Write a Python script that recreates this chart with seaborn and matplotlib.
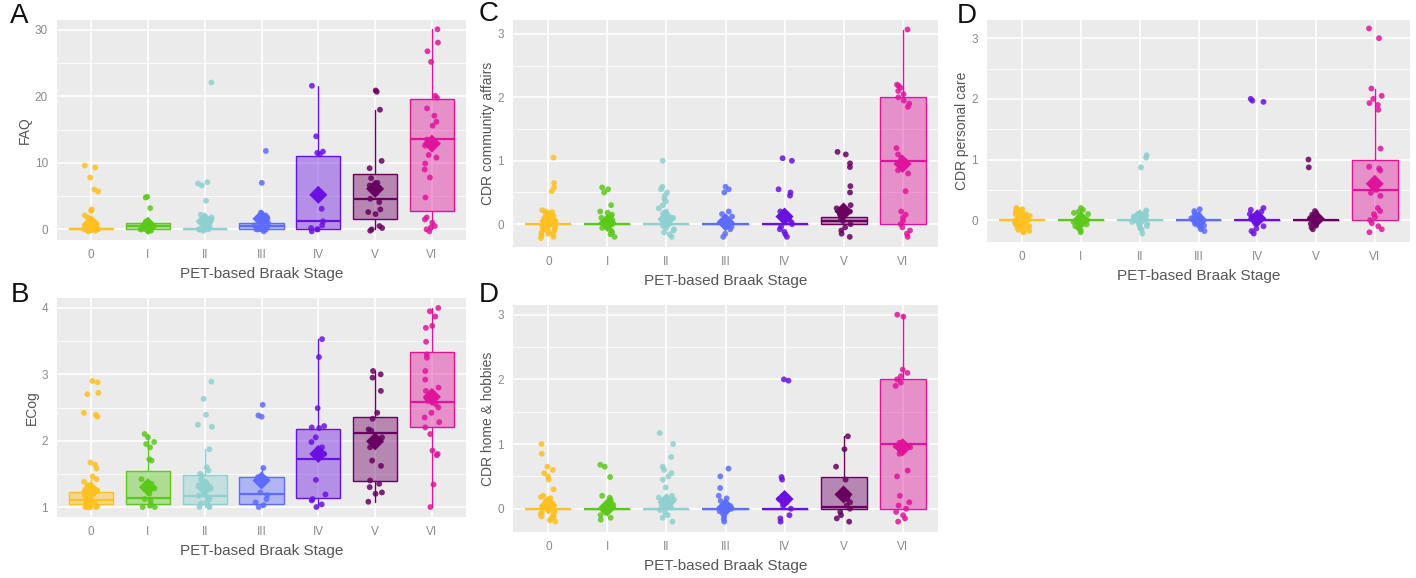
import numpy as np
import pandas as pd
import matplotlib
matplotlib.use("Agg")
import matplotlib.pyplot as plt
import seaborn as sns

np.random.seed(7)

stages = ["0", "I", "II", "III", "IV", "V", "VI"]
stage_colors = ["#FFC020", "#5CC81A", "#8ECFCF", "#5C6CFF", "#6A10E0", "#680060", "#E0149C"]

# ---- A: FAQ ----
faq_points = {
    "0": [9.6, 9.3, 7.8, 6.0, 5.7, 3.0, 2.8, 2.1, 1.8, 1.5, 1.2, 1.0, 0.8, 0.5, 0.3, 0.2, 0.1,
          0, 0, 0, 0, 0, 0, 0, 0, 0, 0, 0, 0, 0, 0, 0, 0, 0, 0, 0, -0.2, -0.3, 0.2, -0.1],
    "I": [4.9, 4.8, 3.2, 1.2, 1.0, 0.8, 0.6, 0.5, 0.3, 0.2, 0, 0, 0, 0, 0, 0, 0, -0.2, -0.3, 0.1],
    "II": [22.1, 7.1, 6.9, 6.6, 4.3, 2.2, 1.8, 1.5, 1.0, 0.6, 0.3, 0, 0, 0, 0, 0, 0, 0, 0, 0, 0,
           -0.2, 0.1, 0.2],
    "III": [11.8, 7.0, 2.5, 2.1, 1.8, 1.5, 1.2, 1.0, 0.6, 0.3, 0, 0, 0, 0, 0, -0.3],
    "IV": [21.6, 14.0, 11.7, 11.5, 11.3, 3.1, 1.2, 0.6, 0.2, 0, 0, -0.3],
    "V": [20.9, 20.7, 18.0, 10.3, 9.2, 7.7, 7.0, 6.6, 6.1, 5.5, 4.6, 4.1, 3.0, 2.6, 2.3, 0.5,
          0.2, 0.0, -0.2],
    "VI": [30.1, 28.1, 26.8, 25.2, 20.1, 19.8, 18.2, 17.1, 16.2, 15.6, 13.5, 12.6, 11.2, 10.8,
           9.9, 9.0, 7.8, 4.8, 1.8, 1.5, 1.0, 0.5, 0.3, 0.0, -0.3],
}
faq_box = {
    "whislo": [0, 0, 0, 0, 0, 0, 0],
    "q1": [0, 0, 0, 0, 0, 1.5, 2.8],
    "med": [0, 0.5, 0, 0.5, 1.2, 4.6, 13.6],
    "q3": [0.2, 1.0, 0.1, 1.0, 11.1, 8.3, 19.6],
    "whishi": [0.5, 1.2, 0.2, 2.5, 21.6, 18.0, 30.1],
    "mean": [0.8, 0.55, 1.2, 1.6, 5.2, 6.1, 12.9],
}

# ---- B: ECog ----
ecog_points = {
    "0": [2.9, 2.88, 2.72, 2.7, 2.42, 2.39, 2.36, 1.67, 1.64, 1.58, 1.46, 1.42, 1.38, 1.33, 1.3,
          1.27, 1.25, 1.22, 1.2, 1.18, 1.16, 1.15, 1.12, 1.1, 1.1, 1.08, 1.07, 1.06, 1.05, 1.04,
          1.03, 1.02, 1.01, 1.0, 1.0, 1.0, 1.0, 1.0],
    "I": [2.1, 2.05, 1.98, 1.95, 1.9, 1.72, 1.7, 1.42, 1.35, 1.28, 1.2, 1.12, 1.1, 1.05, 1.02,
          1.0, 1.0],
    "II": [2.89, 2.63, 2.39, 2.24, 2.21, 1.87, 1.6, 1.55, 1.5, 1.47, 1.42, 1.37, 1.33, 1.28,
           1.25, 1.2, 1.17, 1.15, 1.12, 1.08, 1.05, 1.02, 1.0, 1.0],
    "III": [2.54, 2.38, 2.36, 1.59, 1.45, 1.42, 1.22, 1.18, 1.12, 1.07, 1.03, 1.0],
    "IV": [3.53, 3.26, 2.49, 2.22, 2.2, 2.19, 2.05, 1.98, 1.9, 1.85, 1.8, 1.75, 1.41, 1.19,
           1.12, 1.1, 1.04, 1.0],
    "V": [3.05, 3.0, 2.95, 2.75, 2.42, 2.33, 2.17, 2.15, 2.05, 1.95, 1.9, 1.7, 1.62, 1.4, 1.35,
          1.3, 1.22, 1.2, 1.08],
    "VI": [4.0, 3.95, 3.87, 3.73, 3.7, 3.49, 3.3, 3.25, 3.05, 2.92, 2.8, 2.75, 2.7, 2.65, 2.6,
           2.55, 2.5, 2.42, 2.35, 2.28, 2.2, 2.1, 1.85, 1.8, 1.78, 1.34, 1.0],
}
ecog_box = {
    "whislo": [1.0, 1.0, 1.0, 1.0, 1.0, 1.08, 1.0],
    "q1": [1.04, 1.04, 1.05, 1.04, 1.13, 1.39, 2.21],
    "med": [1.1, 1.13, 1.17, 1.2, 1.73, 2.11, 2.58],
    "q3": [1.23, 1.54, 1.48, 1.46, 2.17, 2.35, 3.33],
    "whishi": [1.42, 2.1, 1.87, 1.59, 3.53, 3.05, 4.0],
    "mean": [1.25, 1.3, 1.3, 1.4, 1.8, 1.99, 2.66],
}

# ---- C: CDR community affairs ----
comm_points = {
    "0": [1.05, 0.65, 0.58, 0.52, 0.22, 0.2, 0.18, 0.15, 0.13, 0.1, 0.08, 0.06, 0.04, 0.02, 0.0,
          -0.02, -0.04, -0.06, -0.08, -0.1, -0.12, -0.14, -0.16, -0.18, -0.2, -0.22, 0.12,
          -0.05, 0.16, 0.05, -0.15, 0.0, 0.19, -0.1, 0.07, -0.02],
    "I": [0.58, 0.55, 0.5, 0.3, 0.2, 0.18, 0.15, 0.12, 0.1, 0.06, 0.03, 0.0, -0.03, -0.06, -0.1,
          -0.13, -0.16, -0.2],
    "II": [1.0, 0.59, 0.55, 0.5, 0.45, 0.4, 0.36, 0.3, 0.25, 0.2, 0.17, 0.14, 0.1, 0.07, 0.04,
           0.0, -0.03, -0.06, -0.1, -0.13, -0.16, -0.2, 0.12, -0.08, 0.02],
    "III": [0.59, 0.55, 0.5, 0.2, 0.16, 0.12, 0.08, 0.04, 0.0, -0.04, -0.08, -0.15, -0.2],
    "IV": [1.04, 1.0, 0.55, 0.5, 0.45, 0.2, 0.16, 0.12, 0.08, 0.03, 0.0, -0.04, -0.08, -0.12,
           -0.16, -0.2],
    "V": [1.14, 1.1, 0.96, 0.9, 0.6, 0.5, 0.3, 0.25, 0.2, 0.15, 0.1, 0.05, 0.0, -0.05, -0.1,
          -0.15, -0.2],
    "VI": [3.07, 2.2, 2.18, 2.15, 2.1, 2.05, 2.0, 1.95, 1.9, 1.85, 1.2, 1.1, 1.05, 1.0, 0.98,
           0.95, 0.9, 0.85, 0.8, 0.52, 0.2, 0.15, 0.1, 0.05, 0.0, -0.05, -0.1, -0.15, -0.2],
}
comm_box = {
    "whislo": [0, 0, 0, 0, 0, 0, 0],
    "q1": [0, 0, 0, 0, 0, 0, 0],
    "med": [0, 0, 0, 0, 0, 0.05, 1.0],
    "q3": [0, 0, 0, 0, 0, 0.12, 2.0],
    "whishi": [0, 0, 0, 0, 0, 0.3, 3.07],
    "mean": [0.05, 0.02, 0.08, 0.03, 0.12, 0.2, 0.95],
}

# ---- D (top): CDR personal care ----
care_points = {
    "0": [0.2, 0.18, 0.16, 0.14, 0.12, 0.1, 0.08, 0.06, 0.04, 0.02, 0.0, -0.02, -0.04, -0.06,
          -0.08, -0.1, -0.12, -0.14, -0.16, -0.18, -0.2, 0.15, 0.05, -0.05, -0.15, 0.1, -0.1,
          0.0, 0.19, -0.19, 0.07, -0.07],
    "I": [0.2, 0.17, 0.14, 0.1, 0.07, 0.03, 0.0, -0.03, -0.07, -0.1, -0.14, -0.17, -0.2, 0.12,
          -0.12, 0.05],
    "II": [1.07, 1.03, 0.87, 0.16, 0.13, 0.1, 0.06, 0.03, 0.0, -0.03, -0.06, -0.1, -0.13, -0.16,
           -0.22, 0.08, -0.08],
    "III": [0.18, 0.15, 0.12, 0.09, 0.06, 0.03, 0.0, -0.03, -0.06, -0.09, -0.12, -0.15, -0.18],
    "IV": [2.0, 1.97, 1.95, 0.2, 0.17, 0.14, 0.1, 0.06, 0.02, -0.02, -0.06, -0.1, -0.14, -0.18,
           -0.22],
    "V": [1.0, 0.87, 0.15, 0.12, 0.09, 0.06, 0.03, 0.0, -0.03, -0.06, -0.09, -0.12, -0.15],
    "VI": [3.16, 3.0, 2.17, 2.05, 2.0, 1.93, 1.9, 1.82, 1.18, 0.88, 0.85, 0.82, 0.6, 0.55, 0.5,
           0.45, 0.4, 0.2, 0.15, 0.1, 0.05, 0.0, -0.05, -0.1, -0.15, -0.2],
}
care_box = {
    "whislo": [0, 0, 0, 0, 0, 0, 0],
    "q1": [0, 0, 0, 0, 0, 0, 0],
    "med": [0, 0, 0, 0, 0, 0, 0.5],
    "q3": [0, 0, 0, 0, 0, 0, 1.0],
    "whishi": [0, 0, 0, 0, 0, 0, 2.17],
    "mean": [0.0, 0.0, 0.03, 0.0, 0.03, 0.02, 0.6],
}

# ---- D (bottom): CDR home & hobbies ----
home_points = {
    "0": [1.0, 0.85, 0.65, 0.6, 0.55, 0.5, 0.45, 0.3, 0.2, 0.18, 0.15, 0.12, 0.1, 0.08, 0.05,
          0.03, 0.0, -0.03, -0.05, -0.08, -0.1, -0.12, -0.15, -0.18, -0.2, 0.16, -0.06, 0.06,
          0.02, -0.14],
    "I": [0.68, 0.65, 0.49, 0.2, 0.17, 0.14, 0.1, 0.06, 0.03, 0.0, -0.03, -0.06, -0.1, -0.14,
          -0.17],
    "II": [1.17, 1.0, 0.8, 0.65, 0.6, 0.55, 0.5, 0.45, 0.33, 0.2, 0.17, 0.14, 0.1, 0.06, 0.02,
           -0.02, -0.06, -0.1, -0.14, -0.2],
    "III": [0.62, 0.5, 0.32, 0.2, 0.16, 0.12, 0.08, 0.04, 0.0, -0.04, -0.08, -0.12, -0.16, -0.2],
    "IV": [2.0, 1.98, 0.49, 0.45, 0.2, 0.15, 0.1, 0.05, 0.0, -0.1, -0.15, -0.2],
    "V": [1.12, 0.92, 0.65, 0.45, 0.25, 0.2, 0.15, 0.1, 0.05, 0.0, -0.05, -0.1, -0.15, -0.2],
    "VI": [3.0, 2.97, 2.15, 2.1, 2.05, 2.0, 1.95, 1.9, 1.02, 1.0, 0.97, 0.95, 0.9, 0.85, 0.59,
           0.5, 0.2, 0.1, 0.05, 0.0, -0.05, -0.1, -0.15, -0.2],
}
home_box = {
    "whislo": [0, 0, 0, 0, 0, 0, 0],
    "q1": [0, 0, 0, 0, 0, 0, 0],
    "med": [0, 0, 0, 0, 0, 0.02, 1.0],
    "q3": [0, 0, 0, 0, 0, 0.49, 2.0],
    "whishi": [0, 0, 0, 0, 0, 1.12, 3.0],
    "mean": [0.05, 0.02, 0.1, 0.02, 0.15, 0.22, 0.95],
}


def draw_panel(ax, points, box, ylabel, ylim, yticks, yminor):
    ax.set_facecolor("#EBEBEB")
    for y in yminor:
        ax.axhline(y, color="white", lw=0.6, zorder=0)
    for y in yticks:
        ax.axhline(y, color="white", lw=1.2, zorder=0)
    for x in range(len(stages)):
        ax.axvline(x, color="white", lw=1.2, zorder=0)

    stats = []
    for i in range(len(stages)):
        stats.append({"whislo": box["whislo"][i], "q1": box["q1"][i], "med": box["med"][i],
                      "q3": box["q3"][i], "whishi": box["whishi"][i], "fliers": []})
    bp = ax.bxp(stats, positions=range(len(stages)), widths=0.78, showcaps=False,
                showfliers=False, patch_artist=True, manage_ticks=False)
    for i, c in enumerate(stage_colors):
        bp["boxes"][i].set_facecolor(matplotlib.colors.to_rgba(c, 0.42))
        bp["boxes"][i].set_edgecolor(c)
        bp["boxes"][i].set_linewidth(1.0)
        bp["medians"][i].set_color(c)
        bp["medians"][i].set_linewidth(1.6)
        for w in bp["whiskers"][2 * i:2 * i + 2]:
            w.set_color(c)
            w.set_linewidth(1.0)

    df = pd.DataFrame([(s, v) for s in stages for v in points[s]], columns=["stage", "value"])
    sns.stripplot(data=df, x="stage", y="value", hue="stage", order=stages, hue_order=stages,
                  palette=stage_colors, jitter=0.13, size=4.2, alpha=0.85, linewidth=0,
                  legend=False, ax=ax, zorder=3)

    # mean marker
    ax.scatter(range(len(stages)), box["mean"], marker="D", s=85, c=stage_colors,
               edgecolors="none", zorder=4)

    ax.set_xlim(-0.6, 6.6)
    ax.set_ylim(*ylim)
    ax.set_yticks(yticks)
    ax.set_xticks(range(len(stages)))
    ax.set_xticklabels(stages)
    ax.tick_params(colors="#9A9A9A", labelsize=8.5, length=3, width=0.8, labelcolor="#8A8A8A")
    ax.set_xlabel("PET-based Braak Stage", fontsize=11, color="#555555", labelpad=4)
    ax.set_ylabel(ylabel, fontsize=10, color="#555555", labelpad=2)
    for sp in ax.spines.values():
        sp.set_visible(False)
    ax.grid(False)


sns.set_theme(style="white")
plt.rcParams["font.family"] = ["Liberation Sans", "DejaVu Sans"]

W, H = 1416, 578
fig = plt.figure(figsize=(W / 100, H / 100), dpi=100)


def px_axes(left, top, right, bottom):
    return fig.add_axes([left / W, 1 - bottom / H, (right - left) / W, (bottom - top) / H])


def px_letter(x, y, letter):
    fig.text(x / W, 1 - y / H, letter, fontsize=20, color="#111111", ha="left", va="top")


axA = px_axes(57, 20, 466, 240)
axB = px_axes(57, 298, 466, 517)
axC = px_axes(513, 20, 938, 247)
axD = px_axes(987, 20, 1410, 242)
axE = px_axes(513, 305, 938, 532)

draw_panel(axA, faq_points, faq_box, "FAQ", (-1.6, 31.5), [0, 10, 20, 30], [5, 15, 25])
draw_panel(axB, ecog_points, ecog_box, "ECog", (0.85, 4.15), [1, 2, 3, 4], [1.5, 2.5, 3.5])
draw_panel(axC, comm_points, comm_box, "CDR community affairs", (-0.36, 3.22),
           [0, 1, 2, 3], [0.5, 1.5, 2.5])
draw_panel(axD, care_points, care_box, "CDR personal care", (-0.36, 3.3),
           [0, 1, 2, 3], [0.5, 1.5, 2.5])
draw_panel(axE, home_points, home_box, "CDR home & hobbies", (-0.36, 3.15),
           [0, 1, 2, 3], [0.5, 1.5, 2.5])

px_letter(10, 3, "A")
px_letter(11, 282, "B")
px_letter(479, 1, "C")
px_letter(957, 3, "D")
px_letter(479, 282, "D")

fig.savefig("out.png", dpi=100)
